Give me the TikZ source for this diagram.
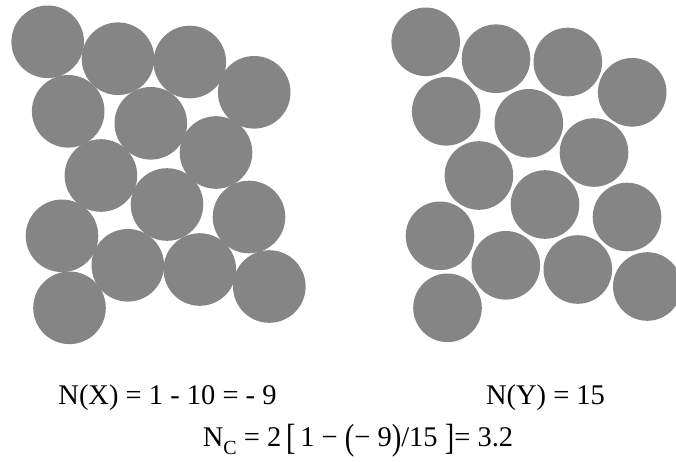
\documentclass[tikz,border=0pt]{standalone}
\usepackage{fontspec}
\setmainfont{Liberation Serif}
\usepackage{tikz}
\definecolor{graingray}{RGB}{133,133,133}
\newcommand{\bigdelim}[1]{\raisebox{-0.12em}{\scalebox{1}[1.28]{#1}}}
\newcommand{\lowsub}[1]{\raisebox{-8.5pt}{\fontsize{20}{20}\selectfont #1}}

\begin{document}
\begin{tikzpicture}[x=1pt, y=-1pt,
    grain/.style={fill=graingray},
    eqn/.style={anchor=base, inner sep=0pt, font=\fontsize{28.5}{30}\selectfont}
]
\useasboundingbox (0,0) rectangle (676,461);

% Packing X (touching grains) and packing Y (grains apart)
\foreach \cx/\cy in {47.7/41.8, 118/58.7, 189.8/62, 254.2/92.3, 68.2/111.3,
    150.8/123.3, 216/152.5, 100.9/175.5, 167/204.5, 249/217,
    62/235.8, 127.8/265.3, 199.8/269.5, 269.3/286.5, 69.5/307.8}{
  \fill[grain] (\cx,\cy) circle (36.3);
  \fill[grain] (\cx+378,\cy) circle (34.3);
}

% Labels
\node[eqn] (nx) at (167.5,404) {N(X) = 1 - 10 = - 9};
\node[eqn] (ny) at (545.5,404) {N(Y) = 15};
\node[eqn] (nc) at (358,446) {N\lowsub{C} = 2\,\bigdelim{[}\,1 − \bigdelim{(}− 9\bigdelim{)}/15 \bigdelim{]}= 3.2};

\end{tikzpicture}
\end{document}
